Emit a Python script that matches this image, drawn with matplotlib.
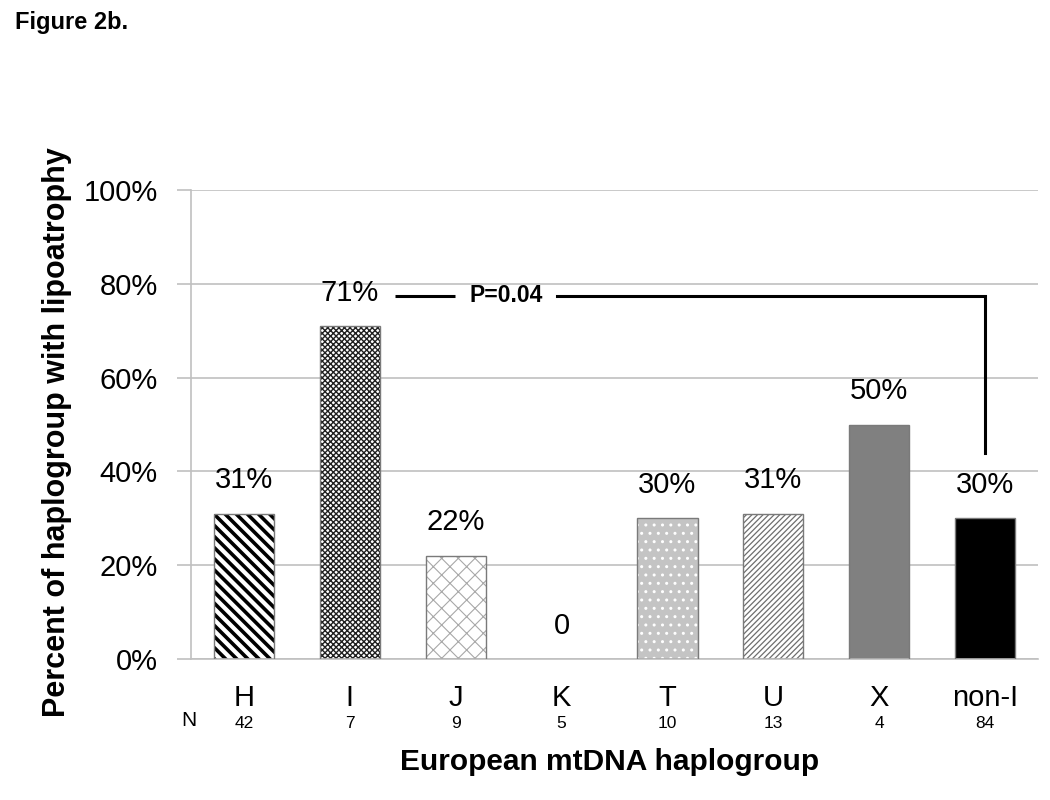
import matplotlib.pyplot as plt
import matplotlib.transforms as mtransforms
import numpy as np

plt.rcParams['font.family'] = ['Liberation Sans', 'DejaVu Sans']

# data
groups = ['H', 'I', 'J', 'K', 'T', 'U', 'X', 'non-I']
percent = [31, 71, 22, 0, 30, 31, 50, 30]
n_counts = [42, 7, 9, 5, 10, 13, 4, 84]
labels = ['31%', '71%', '22%', '0', '30%', '31%', '50%', '30%']
p_text = 'P=0.04'

# fill styles per bar: (face, hatch, hatch colour, hatch linewidth)
styles = [
    ('white', '\\\\\\', 'black', 2.6),
    ('white', 'xxxxxx', '#202020', 1.0),
    ('white', 'xx', '#a8a8a8', 0.8),
    ('white', None, 'black', 1.0),
    ('#c4c4c4', '..', 'white', 1.0),
    ('white', '//////', '#6e6e6e', 0.9),
    ('#808080', None, '#808080', 1.0),
    ('black', None, 'black', 1.0),
]

fig = plt.figure(figsize=(10.5, 8), dpi=100)
ax = fig.add_axes([191 / 1050, 141 / 800, 847 / 1050, 469 / 800])

x = np.arange(len(groups))
width = 0.57

for i, (face, hatch, hcol, hlw) in enumerate(styles):
    if percent[i] == 0:
        continue
    b = ax.bar(x[i], percent[i], width, color=face, edgecolor=hcol,
               hatch=hatch, linewidth=0, zorder=2)[0]
    if hatch and hasattr(b, 'set_hatch_linewidth'):
        b.set_hatch_linewidth(hlw)
    # outline on top
    ax.bar(x[i], percent[i], width, fill=False, edgecolor='#7a7a7a',
           linewidth=1.0, zorder=3)

for i, lab in enumerate(labels):
    ax.annotate(lab, (x[i], percent[i]), xytext=(0, 24), textcoords='offset points',
                ha='center', va='center', fontsize=21)

# significance bracket between I and non-I
i_idx, noni_idx = 1, 7
bracket_y = 77.4
bracket_bottom = 44
txt_x = i_idx + 1.48
ax.plot([i_idx + 0.43, i_idx + 0.99], [bracket_y, bracket_y], color='black', lw=2.2,
        solid_capstyle='butt', zorder=4)
ax.plot([i_idx + 1.96, noni_idx, noni_idx], [bracket_y, bracket_y, bracket_bottom],
        color='black', lw=2.2, solid_joinstyle='miter', zorder=4)
ax.text(txt_x, bracket_y, p_text, ha='center', va='center', fontsize=16.5,
        fontweight='bold')

ax.set_xlim(-0.5, len(groups) - 0.5)
ax.set_ylim(0, 100)
ax.set_yticks(np.arange(0, 101, 20))
ax.set_yticklabels([f'{v}%' for v in range(0, 101, 20)], fontsize=21)
ax.yaxis.grid(True, color='#c0c0c0', linewidth=1.2, zorder=0)
ax.set_axisbelow(True)
ax.tick_params(axis='y', length=10, color='#c0c0c0', width=1.2, pad=14)
ax.set_xticks(x)
ax.set_xticklabels(groups, fontsize=21)
ax.tick_params(axis='x', length=0, pad=18)

for s in ['top', 'right']:
    ax.spines[s].set_visible(False)
ax.spines['left'].set_color('#c0c0c0')
ax.spines['bottom'].set_color('#c0c0c0')
ax.spines['left'].set_linewidth(1.2)
ax.spines['bottom'].set_linewidth(1.2)

# N row below the category labels
trans = mtransforms.blended_transform_factory(ax.transData, fig.transFigure)
n_y = 1 - 724 / 800
for i, n in enumerate(n_counts):
    ax.text(x[i], n_y, str(n), transform=trans, ha='center', va='center', fontsize=12.5)
fig.text(189 / 1050, 1 - 720 / 800, 'N', ha='center', va='center', fontsize=15)

ax.set_ylabel('Percent of haplogroup with lipoatrophy', fontsize=22,
              fontweight='bold', va='center')
ax.yaxis.set_label_coords((57 - 191) / 847, (659 - 432) / 469)
ax.set_xlabel('European mtDNA haplogroup', fontsize=21.5, fontweight='bold',
              va='center')
ax.xaxis.set_label_coords((610 - 191) / 847, (659 - 762) / 469)

fig.text(15 / 1050, 1 - 22 / 800, 'Figure 2b.', fontsize=17, fontweight='bold',
         va='center', ha='left')

fig.savefig('out.png', dpi=100)
